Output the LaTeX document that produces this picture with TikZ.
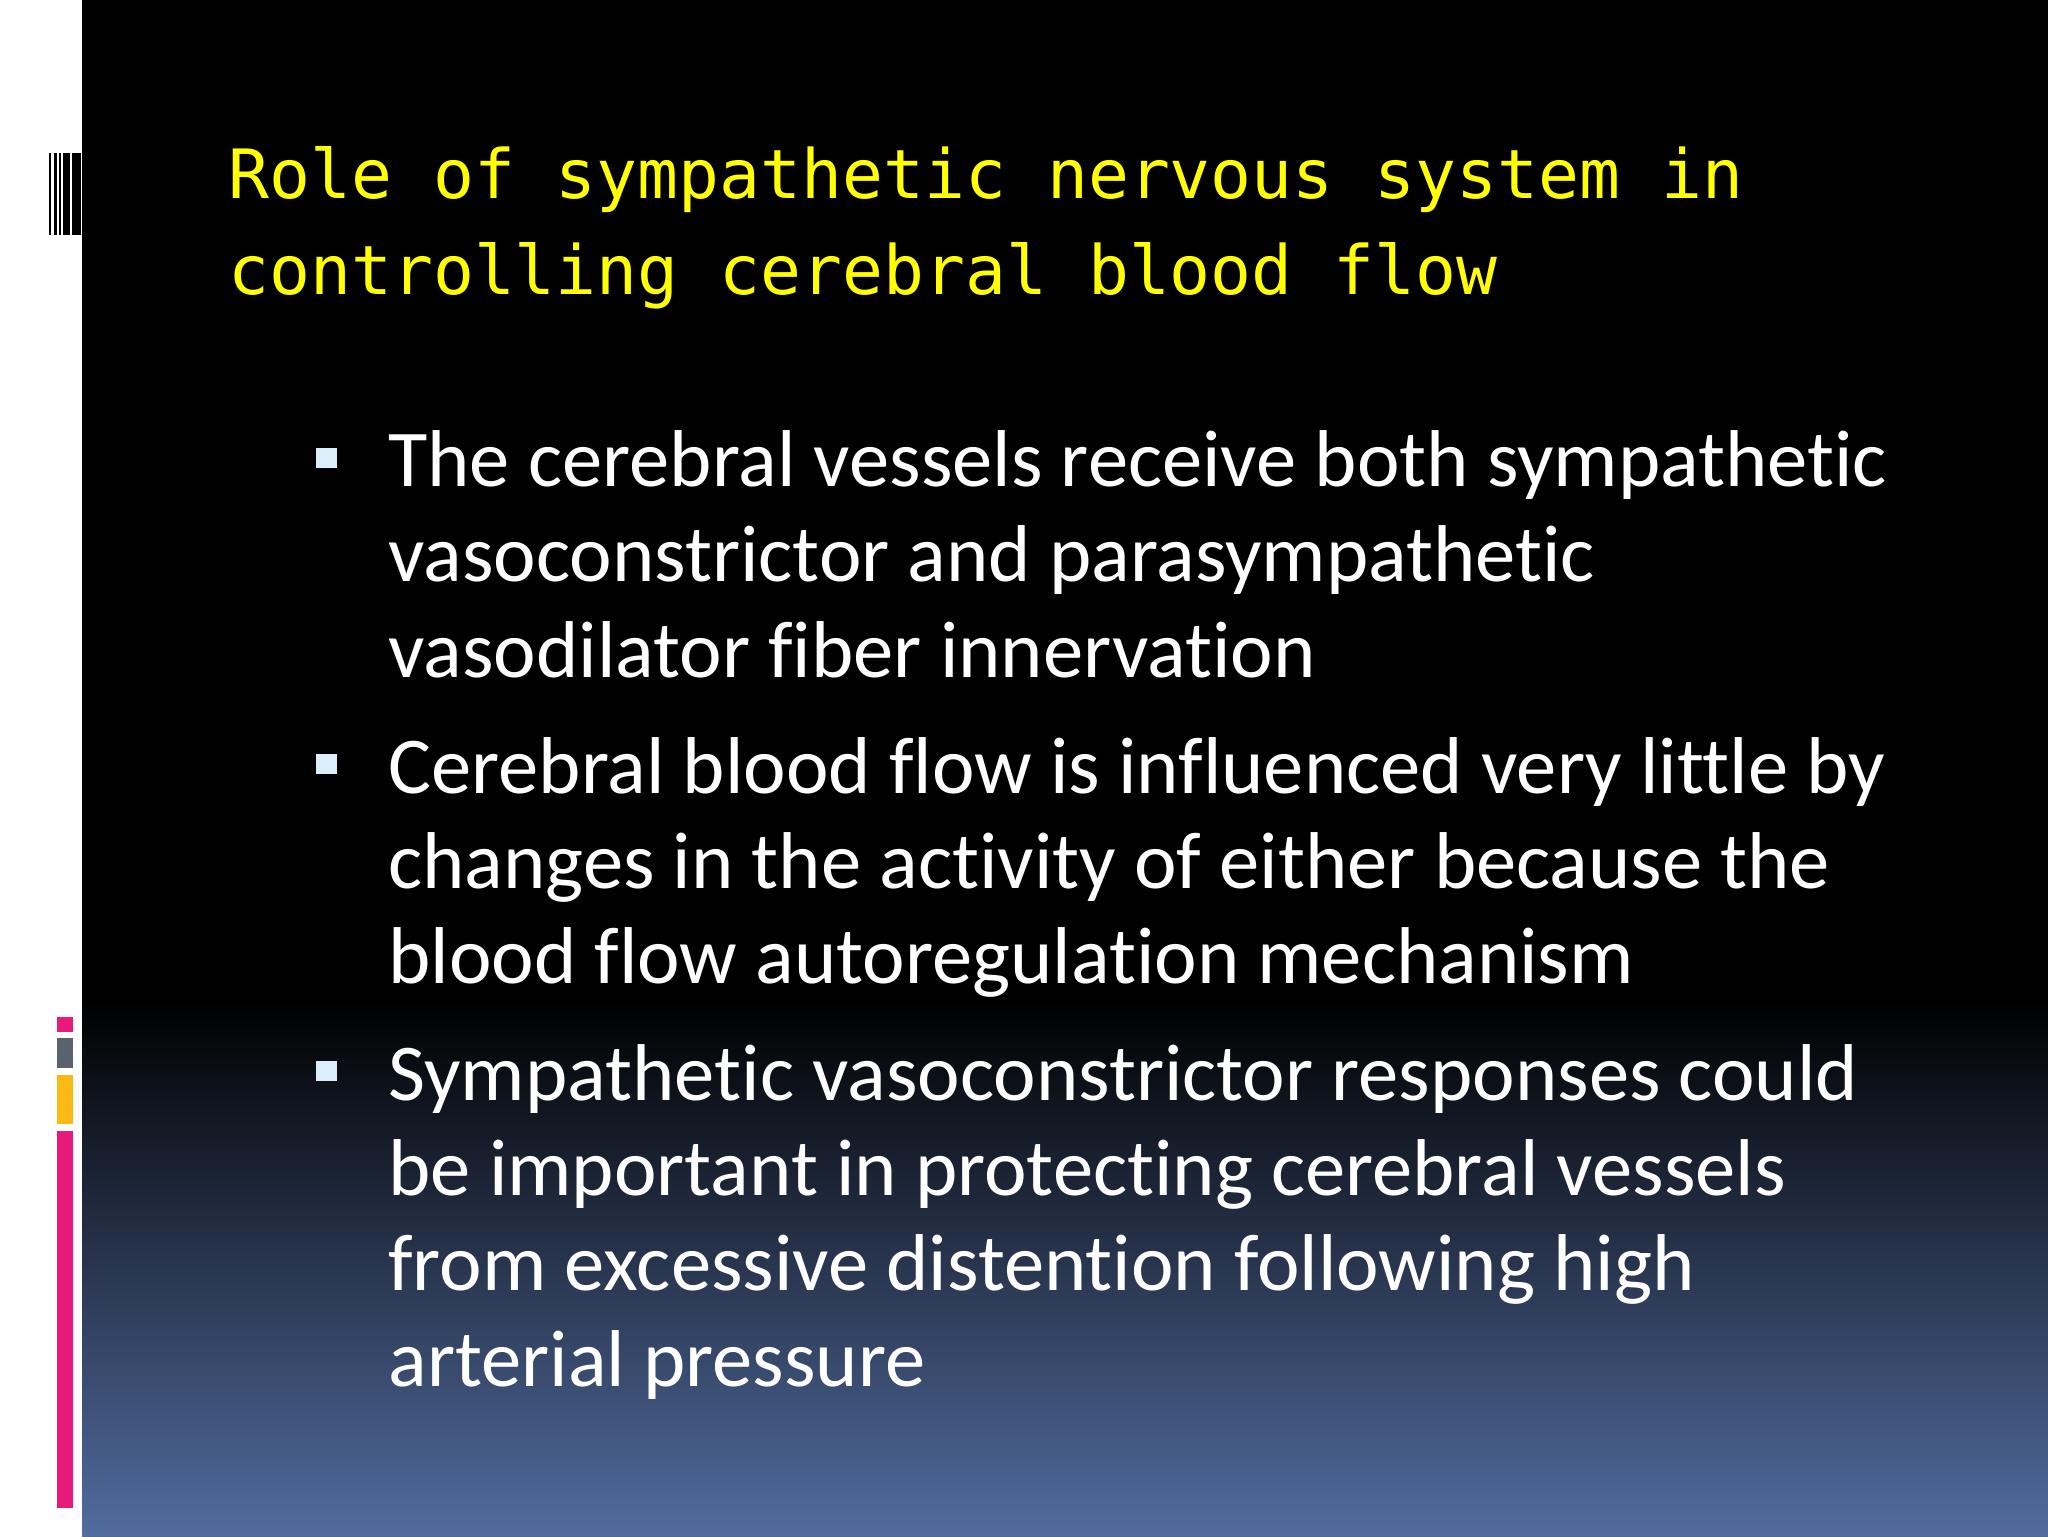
\documentclass[tikz,border=0pt]{standalone}
\usepackage{fontspec}
\setmainfont{Carlito}[Ligatures={NoCommon,NoRare,NoContextual}]
\newfontfamily\titlefont{DejaVu Sans Mono}
\definecolor{ttl}{HTML}{FFFF00}
\definecolor{bgblue}{HTML}{526C9F}
\definecolor{pinkbar}{HTML}{E8197A}
\definecolor{graybar}{HTML}{5A6270}
\definecolor{yelbar}{HTML}{FDB913}
\definecolor{bul}{HTML}{DCEEFA}
\begin{document}
\begin{tikzpicture}[x=0.5pt,y=-0.5pt,
  ttlline/.style={anchor=base west,inner sep=0pt,text=ttl,font=\titlefont\fontsize{34}{34}\selectfont},
  bodyline/.style={anchor=base west,inner sep=0pt,text=white,font=\fontsize{40.3}{42}\selectfont},
  bulletsq/.style={fill=bul,draw=none}]
\useasboundingbox (0,0) rectangle (2048,1536);
\fill[white] (0,0) rectangle (82,1536);
\fill[black] (82,0) rectangle (2048,1000);
\shade[top color=black,bottom color=bgblue] (82,1000) rectangle (2048,1536);
% barcode
\foreach \a/\b in {49/51,54/57,59/61,63/70,72/81}{\fill[black] (\a,153) rectangle (\b,235);}
% colour bars
\fill[pinkbar] (57,1017) rectangle (73,1032);
\fill[graybar] (57,1038) rectangle (73,1068);
\fill[yelbar] (57,1075) rectangle (73,1124);
\fill[pinkbar] (57,1131) rectangle (73,1508);
% title
\node[ttlline] (t1) at (228,198) {Role of sympathetic nervous system in};
\node[ttlline] (t2) at (228,294) {controlling cerebral blood flow};
% bullets
\foreach \y in {458,764,1071}{\fill[bulletsq] (316,\y-10) rectangle (337,\y+10);}
\node[bodyline] (a1) at (388,486) {The cerebral vessels receive both sympathetic};
\node[bodyline] (a2) at (388,581) {vasoconstrictor and parasympathetic};
\node[bodyline] (a3) at (388,677) {vasodilator fiber innervation};
\node[bodyline] (b1) at (388,793) {Cerebral blood flow is influenced very little by};
\node[bodyline] (b2) at (388,888) {changes in the activity of either because the};
\node[bodyline] (b3) at (388,983) {blood flow autoregulation mechanism};
\node[bodyline] (c1) at (388,1100) {Sympathetic vasoconstrictor responses could};
\node[bodyline] (c2) at (388,1195) {be important in protecting cerebral vessels};
\node[bodyline] (c3) at (388,1290) {from excessive distention following high};
\node[bodyline] (c4) at (388,1386) {arterial pressure};
\end{tikzpicture}
\end{document}
